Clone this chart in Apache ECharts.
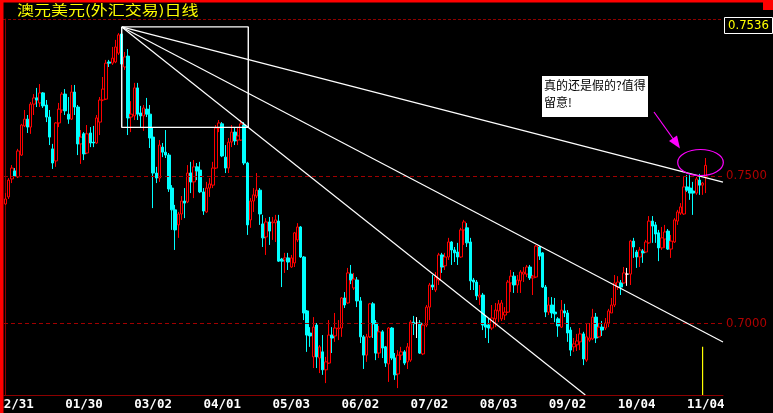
<!DOCTYPE html>
<html>
<head>
<meta charset="utf-8">
<script src="https://cdn.jsdelivr.net/npm/echarts@6/dist/echarts.min.js"></script>
<style>
html,body{margin:0;padding:0;background:#000;}
#c{width:773px;height:413px;}
</style>
</head>
<body>
<div id="c"></div>
<script>
// ---------------- data ----------------
const titleText = '澳元美元(外汇交易)日线';
const noteLines = ['真的还是假的?值得', '留意!'];
const tickLabels = ['12/31','01/30','03/02','04/01','05/03','06/02','07/02','08/03','09/02','10/04','11/04'];
const priceLevels = [0.70, 0.75];
const missingDates = ['10/11'];
const totalSlots = 229;

// [open, close, low, high]
const ohlc = [
[0.7405,0.7422,0.7402,0.7442],[0.7429,0.7486,0.7422,0.7493],[0.7490,0.7527,0.7476,0.7537],[0.7517,0.7500,0.7497,0.7527],
[0.7497,0.7585,0.7493,0.7592],[0.7571,0.7673,0.7568,0.7677],[0.7670,0.7693,0.7666,0.7724],[0.7693,0.7666,0.7646,0.7707],
[0.7666,0.7744,0.7643,0.7751],[0.7744,0.7765,0.7707,0.7778],[0.7765,0.7758,0.7734,0.7799],[0.7748,0.7782,0.7734,0.7812],
[0.7782,0.7738,0.7731,0.7785],[0.7741,0.7700,0.7683,0.7758],[0.7700,0.7632,0.7605,0.7724],[0.7592,0.7544,0.7524,0.7609],
[0.7551,0.7680,0.7531,0.7683],[0.7680,0.7727,0.7666,0.7748],[0.7724,0.7778,0.7714,0.7785],[0.7778,0.7721,0.7707,0.7795],
[0.7710,0.7693,0.7677,0.7768],[0.7693,0.7785,0.7690,0.7809],[0.7785,0.7734,0.7707,0.7809],[0.7734,0.7609,0.7571,0.7741],
[0.7609,0.7632,0.7541,0.7656],[0.7643,0.7575,0.7554,0.7649],[0.7578,0.7643,0.7575,0.7673],[0.7646,0.7612,0.7598,0.7666],
[0.7615,0.7612,0.7598,0.7670],[0.7612,0.7697,0.7609,0.7707],[0.7683,0.7758,0.7639,0.7768],[0.7758,0.7795,0.7754,0.7836],
[0.7761,0.7883,0.7758,0.7894],[0.7887,0.7883,0.7870,0.7894],[0.7883,0.7900,0.7877,0.7938],[0.7887,0.7938,0.7883,0.7962],
[0.7917,0.7979,0.7911,0.7985],[0.7982,0.7880,0.7877,0.8006],[0.7870,0.7904,0.7860,0.7921],[0.7907,0.7697,0.7639,0.7931],
[0.7700,0.7710,0.7649,0.7754],[0.7704,0.7799,0.7690,0.7816],[0.7799,0.7710,0.7690,0.7816],[0.7714,0.7704,0.7663,0.7738],
[0.7704,0.7731,0.7653,0.7741],[0.7727,0.7710,0.7700,0.7765],[0.7710,0.7629,0.7595,0.7741],[0.7632,0.7510,0.7391,0.7663],
[0.7510,0.7493,0.7476,0.7531],[0.7493,0.7605,0.7480,0.7622],[0.7598,0.7581,0.7564,0.7612],[0.7581,0.7571,0.7561,0.7656],
[0.7571,0.7456,0.7446,0.7578],[0.7459,0.7385,0.7317,0.7469],[0.7385,0.7317,0.7249,0.7402],[0.7334,0.7371,0.7290,0.7378],
[0.7371,0.7415,0.7351,0.7432],[0.7415,0.7408,0.7357,0.7459],[0.7412,0.7510,0.7408,0.7537],[0.7510,0.7480,0.7442,0.7548],
[0.7480,0.7531,0.7425,0.7554],[0.7531,0.7517,0.7486,0.7544],[0.7520,0.7446,0.7442,0.7548],[0.7446,0.7381,0.7368,0.7459],
[0.7378,0.7459,0.7375,0.7480],[0.7459,0.7473,0.7429,0.7493],[0.7469,0.7527,0.7459,0.7548],[0.7527,0.7663,0.7524,0.7673],
[0.7663,0.7680,0.7649,0.7690],[0.7677,0.7568,0.7564,0.7683],[0.7564,0.7527,0.7510,0.7605],[0.7527,0.7615,0.7510,0.7629],
[0.7615,0.7649,0.7598,0.7673],[0.7649,0.7619,0.7605,0.7663],[0.7622,0.7636,0.7605,0.7663],[0.7622,0.7677,0.7619,0.7690],
[0.7673,0.7544,0.7537,0.7683],[0.7544,0.7334,0.7300,0.7548],[0.7351,0.7415,0.7324,0.7425],[0.7415,0.7436,0.7378,0.7459],
[0.7432,0.7452,0.7425,0.7510],[0.7452,0.7371,0.7334,0.7459],[0.7337,0.7290,0.7259,0.7368],[0.7293,0.7344,0.7232,0.7357],
[0.7344,0.7313,0.7266,0.7361],[0.7341,0.7344,0.7283,0.7361],[0.7341,0.7351,0.7276,0.7368],[0.7347,0.7211,0.7208,0.7368],
[0.7218,0.7211,0.7123,0.7222],[0.7215,0.7222,0.7171,0.7239],[0.7222,0.7208,0.7181,0.7239],[0.7191,0.7222,0.7188,0.7232],
[0.7205,0.7307,0.7191,0.7310],[0.7283,0.7327,0.7276,0.7340],[0.7327,0.7225,0.7222,0.7330],[0.7225,0.7035,0.7011,0.7228],
[0.7042,0.6960,0.6903,0.7045],[0.6967,0.6957,0.6920,0.6987],[0.6886,0.6987,0.6848,0.7021],[0.6994,0.6886,0.6848,0.7001],
[0.6882,0.6920,0.6831,0.6926],[0.6903,0.6842,0.6825,0.6960],[0.6842,0.6869,0.6797,0.6886],[0.6865,0.6960,0.6862,0.7011],
[0.6960,0.6950,0.6899,0.6987],[0.6957,0.6984,0.6937,0.7035],[0.6981,0.6984,0.6943,0.7011],[0.6984,0.7086,0.6954,0.7089],
[0.7086,0.7062,0.7052,0.7106],[0.7069,0.7171,0.7066,0.7188],[0.7167,0.7147,0.7133,0.7198],[0.7120,0.7150,0.7113,0.7171],
[0.7147,0.7076,0.7055,0.7157],[0.7076,0.6954,0.6933,0.7089],[0.6954,0.6892,0.6845,0.6960],[0.6892,0.6954,0.6869,0.6964],
[0.6954,0.7066,0.6950,0.7069],[0.7066,0.6998,0.6950,0.7072],[0.7001,0.6899,0.6875,0.7011],[0.6899,0.6971,0.6882,0.6991],
[0.6971,0.6916,0.6882,0.6977],[0.6920,0.6865,0.6852,0.6923],[0.6862,0.6984,0.6801,0.6987],[0.6984,0.6882,0.6875,0.6987],
[0.6882,0.6825,0.6808,0.6899],[0.6828,0.6892,0.6780,0.6909],[0.6892,0.6903,0.6875,0.6920],[0.6903,0.6865,0.6858,0.6909],
[0.6869,0.6920,0.6845,0.6933],[0.6875,0.7004,0.6869,0.7011],[0.7004,0.6998,0.6960,0.7025],[0.7000,0.7000,0.6950,0.7021],
[0.7001,0.6899,0.6896,0.7011],[0.6896,0.6994,0.6892,0.7001],[0.6994,0.7055,0.6987,0.7062],[0.7055,0.7130,0.7011,0.7137],
[0.7130,0.7123,0.7113,0.7164],[0.7113,0.7157,0.7106,0.7174],[0.7147,0.7232,0.7130,0.7239],[0.7232,0.7191,0.7171,0.7239],
[0.7195,0.7225,0.7181,0.7239],[0.7225,0.7276,0.7215,0.7290],[0.7276,0.7249,0.7198,0.7279],[0.7249,0.7239,0.7208,0.7259],
[0.7242,0.7225,0.7198,0.7273],[0.7225,0.7317,0.7222,0.7324],[0.7317,0.7344,0.7266,0.7351],[0.7324,0.7273,0.7259,0.7340],
[0.7276,0.7144,0.7113,0.7290],[0.7147,0.7140,0.7113,0.7154],[0.7140,0.7093,0.7079,0.7147],[0.7089,0.7096,0.7062,0.7130],
[0.7096,0.6994,0.6977,0.7103],[0.6994,0.6987,0.6950,0.7028],[0.6994,0.6984,0.6933,0.7018],[0.6984,0.7018,0.6977,0.7062],
[0.7015,0.7045,0.6987,0.7069],[0.7042,0.7066,0.7004,0.7079],[0.7015,0.7069,0.7008,0.7079],[0.7028,0.7038,0.7011,0.7055],
[0.7038,0.7140,0.7035,0.7147],[0.7137,0.7160,0.7106,0.7181],[0.7160,0.7130,0.7103,0.7174],[0.7130,0.7147,0.7103,0.7164],
[0.7144,0.7174,0.7103,0.7181],[0.7167,0.7174,0.7140,0.7191],[0.7167,0.7191,0.7157,0.7198],[0.7191,0.7154,0.7147,0.7198],
[0.7154,0.7160,0.7096,0.7164],[0.7157,0.7262,0.7154,0.7266],[0.7259,0.7228,0.7215,0.7262],[0.7239,0.7123,0.7120,0.7242],
[0.7123,0.7038,0.7021,0.7130],[0.7038,0.7062,0.7028,0.7089],[0.7062,0.7035,0.7018,0.7089],[0.7038,0.7032,0.7004,0.7086],
[0.7015,0.6991,0.6954,0.7021],[0.6987,0.7045,0.6984,0.7079],[0.7042,0.7035,0.7021,0.7066],[0.7035,0.6967,0.6937,0.7045],
[0.6977,0.6909,0.6889,0.6987],[0.6920,0.6930,0.6903,0.6950],[0.6927,0.6940,0.6906,0.6964],[0.6937,0.6964,0.6909,0.6984],
[0.6964,0.6879,0.6858,0.6971],[0.6875,0.6954,0.6869,0.7001],[0.6943,0.6950,0.6937,0.7001],[0.6947,0.7021,0.6943,0.7049],
[0.7021,0.6950,0.6933,0.7035],[0.6954,0.6987,0.6950,0.7001],[0.6987,0.6977,0.6957,0.7008],[0.6984,0.7001,0.6977,0.7018],
[0.7001,0.7042,0.6987,0.7049],[0.7035,0.7062,0.7035,0.7086],[0.7062,0.7137,0.7055,0.7164],[0.7123,0.7140,0.7113,0.7160],
[0.7137,0.7123,0.7096,0.7147],[0.7137,0.7171,0.7134,0.7191],[0.7167,0.7167,0.7127,0.7188],[0.7167,0.7279,0.7130,0.7283],
[0.7279,0.7259,0.7222,0.7290],[0.7242,0.7225,0.7188,0.7249],[0.7225,0.7249,0.7191,0.7259],[0.7245,0.7239,0.7205,0.7252],
[0.7242,0.7276,0.7239,0.7283],[0.7273,0.7347,0.7270,0.7364],[0.7347,0.7330,0.7273,0.7364],[0.7334,0.7303,0.7273,0.7344],
[0.7307,0.7256,0.7211,0.7317],[0.7256,0.7290,0.7249,0.7327],[0.7286,0.7310,0.7256,0.7334],[0.7313,0.7252,0.7249,0.7320],
[0.7252,0.7279,0.7222,0.7300],[0.7276,0.7351,0.7273,0.7357],[0.7347,0.7378,0.7334,0.7385],[0.7374,0.7395,0.7368,0.7408],
[0.7371,0.7463,0.7368,0.7497],[0.7463,0.7452,0.7446,0.7503],[0.7459,0.7442,0.7419,0.7503],[0.7449,0.7442,0.7368,0.7480],
[0.7442,0.7490,0.7436,0.7497],[0.7486,0.7469,0.7436,0.7507],[0.7469,0.7476,0.7436,0.7480],[0.7497,0.7536,0.7442,0.7561]
];

// speed-resistance fan drawn from the February peak
const peakIndex = 37;
const boxEndIndex = 77.3;
const boxLowPrice = 0.7665;
const fanRatios = [0.325, 0.66, 1];
// yellow marker line
const markerIndex = 222;
const markerTopPrice = 0.6920;

const yMin = 0.67566;
const yMax = 0.80329;

// ---------------- build ----------------
const dates = [];
{
  const d = new Date(Date.UTC(2003, 11, 26));
  while (dates.length < totalSlots) {
    const wd = d.getUTCDay();
    if (wd !== 0 && wd !== 6) {
      const s = String(d.getUTCMonth() + 1).padStart(2, '0') + '/' + String(d.getUTCDate()).padStart(2, '0');
      if (!missingDates.includes(s)) dates.push(s);
    }
    d.setUTCDate(d.getUTCDate() + 1);
  }
}

const xMaxV = totalSlots - 0.5;
const peakHigh = ohlc[peakIndex][3];
const fanSeries = fanRatios.map(r => {
  const p1 = peakHigh - r * (peakHigh - boxLowPrice);
  const slope = (p1 - peakHigh) / (boxEndIndex - peakIndex);
  let xe = xMaxV, ye = peakHigh + slope * (xMaxV - peakIndex);
  if (ye < yMin) { xe = peakIndex + (yMin - peakHigh) / slope; ye = yMin; }
  return {
    type: 'line', xAxisIndex: 1, yAxisIndex: 0, symbol: 'none', silent: true,
    lineStyle: { color: '#ffffff', width: 1.2 },
    data: [[peakIndex, peakHigh], [xe, ye]], z: 5
  };
});
const boxSeries = {
  type: 'line', xAxisIndex: 1, yAxisIndex: 0, symbol: 'none', silent: true,
  lineStyle: { color: '#ffffff', width: 1.4 },
  data: [[peakIndex, peakHigh], [boxEndIndex, peakHigh], [boxEndIndex, boxLowPrice], [peakIndex, boxLowPrice], [peakIndex, peakHigh]],
  z: 5
};
const markerSeries = {
  type: 'line', xAxisIndex: 1, yAxisIndex: 0, symbol: 'none', silent: true,
  lineStyle: { color: '#ffff00', width: 1.2 },
  data: [[markerIndex, yMin], [markerIndex, markerTopPrice]], z: 5
};

const narrowFont = "'Liberation Sans Narrow','DejaVu Sans Condensed','Liberation Sans',sans-serif";
const lastClose = ohlc[ohlc.length - 1][1];

const chart = echarts.init(document.getElementById('c'), null, { renderer: 'canvas' });
chart.setOption({
  backgroundColor: '#000000',
  animation: false,
  grid: { left: 4, right: 50, top: 19, bottom: 18, show: false, containLabel: false, outerBoundsMode: 'none' },
  xAxis: [
    {
      type: 'category', data: dates, boundaryGap: true, gridIndex: 0,
      axisLine: { show: true, lineStyle: { color: '#8c0000', width: 1 } },
      axisTick: { show: false },
      splitLine: { show: false },
      axisLabel: {
        interval: (idx, val) => tickLabels.includes(val),
        color: '#ffffff', fontWeight: 'bold', fontFamily: "'DejaVu Sans Mono',monospace",
        fontSize: 12.5, margin: 3, hideOverlap: false
      }
    },
    { type: 'value', gridIndex: 0, min: -0.5, max: xMaxV, show: false }
  ],
  yAxis: {
    type: 'value', position: 'right', min: yMin, max: yMax,
    axisLine: { show: true, lineStyle: { color: '#8c0000', width: 1 } },
    axisTick: { show: false }, axisLabel: { show: false }, splitLine: { show: false }
  },
  series: [
    {
      type: 'candlestick', data: ohlc, barWidth: 3, silent: true,
      itemStyle: {
        color: '#000000', color0: '#00ffff',
        borderColor: '#ff0000', borderColor0: '#00ffff',
        borderColorDoji: '#ffffff', borderWidth: 1
      },
      markLine: {
        silent: true, symbol: ['none', 'none'], animation: false,
        lineStyle: { color: '#a00000', type: [4, 3], width: 1 },
        label: {
          position: 'end', distance: 3, color: '#b00000', fontSize: 13, fontFamily: narrowFont,
          formatter: p => Number(p.value).toFixed(4)
        },
        data: priceLevels.map(v => ({ yAxis: v }))
      },
      z: 3
    },
    ...fanSeries, boxSeries, markerSeries
  ],
  graphic: [
    { type: 'rect', z: 100, shape: { x: 0, y: 0, width: 773, height: 2.5 }, style: { fill: '#ff0000' } },
    { type: 'rect', z: 100, shape: { x: 0, y: 0, width: 3.5, height: 413 }, style: { fill: '#ff0000' } },
    { type: 'rect', z: 100, shape: { x: 763, y: 0, width: 10, height: 10 }, style: { fill: '#ff0000' } },
    { type: 'line', z: 50, shape: { x1: 3, y1: 19.5, x2: 723, y2: 19.5 }, style: { stroke: '#8c0000', lineWidth: 1, lineDash: [3, 2] } },
    { type: 'text', z: 50, x: 17, y: 9.5, scaleY: 0.78,
      style: { text: titleText, fill: '#ffff00', font: "17px 'Noto Sans CJK SC'", textVerticalAlign: 'middle' } },
    { type: 'rect', z: 50, shape: { x: 724.5, y: 17.5, width: 48, height: 16 }, style: { fill: '#000000', stroke: '#ffffff', lineWidth: 1 } },
    { type: 'text', z: 51, x: 728, y: 25.5,
      style: { text: lastClose.toFixed(4), fill: '#ffff00', font: "13px " + narrowFont, textVerticalAlign: 'middle' } },
    { type: 'rect', z: 50, shape: { x: 542, y: 76, width: 106, height: 41 }, style: { fill: '#ffffff' } },
    { type: 'text', z: 51, x: 544, y: 85.5,
      style: { text: noteLines[0], fill: '#000000', font: "12px 'Noto Sans CJK SC'", textVerticalAlign: 'middle' } },
    { type: 'text', z: 51, x: 544, y: 102,
      style: { text: noteLines[1], fill: '#000000', font: "12px 'Noto Sans CJK SC'", textVerticalAlign: 'middle' } },
    { type: 'line', z: 50, shape: { x1: 654, y1: 112, x2: 674, y2: 140 }, style: { stroke: '#ff00ff', lineWidth: 1.2 } },
    { type: 'polygon', z: 50, shape: { points: [[680, 148.5], [669, 141], [677, 135.5]] }, style: { fill: '#ff00ff' } },
    { type: 'ellipse', z: 50, shape: { cx: 700.5, cy: 162.5, rx: 22.8, ry: 13 }, style: { fill: 'none', stroke: '#ff00ff', lineWidth: 1.2 } }
  ]
});
</script>
</body>
</html>
